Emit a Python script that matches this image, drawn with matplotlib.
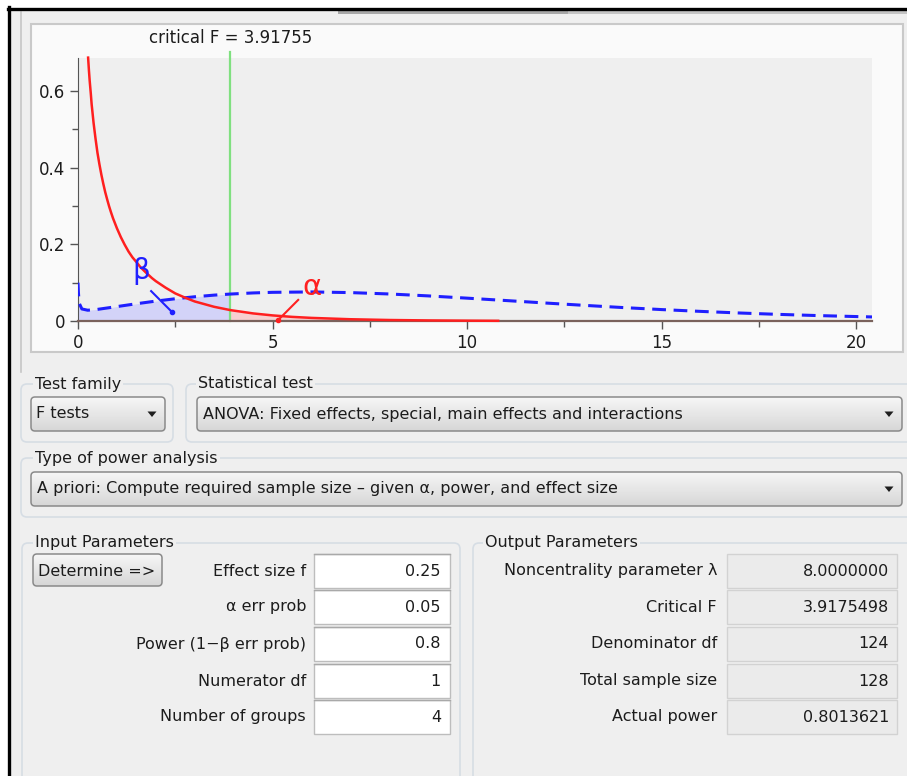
import numpy as np
import matplotlib
matplotlib.use("Agg")
import matplotlib.pyplot as plt
from matplotlib.patches import Rectangle, FancyBboxPatch, Polygon
from matplotlib.colors import LinearSegmentedColormap

W, H, DPI = 907, 776, 100

# --- chart data ---
crit_f = 3.91755
central_x = [0.26, 0.28, 0.3, 0.33, 0.35, 0.4, 0.45, 0.5, 0.55, 0.6, 0.65, 0.7, 0.75,
             0.8, 0.85, 0.9, 1.0, 1.1, 1.2, 1.3, 1.4, 1.5, 1.6, 1.75, 1.9, 2.0, 2.25,
             2.5, 2.75, 3.0, 3.25, 3.5, 3.91755, 4.25, 4.5, 5.0, 5.5, 6.0, 7.0, 8.0,
             9.0, 10.0, 10.8]
central_y = [0.687, 0.655, 0.627, 0.592, 0.566, 0.517, 0.476, 0.439, 0.409, 0.382,
             0.358, 0.336, 0.317, 0.299, 0.283, 0.268, 0.242, 0.219, 0.199, 0.181,
             0.166, 0.154, 0.141, 0.126, 0.112, 0.104, 0.087, 0.072, 0.061, 0.051,
             0.044, 0.037, 0.0284, 0.0235, 0.0198, 0.0146, 0.0108, 0.0081, 0.0046,
             0.0026, 0.0015, 0.0009, 0.0005]
noncentral_x = [0.0, 0.01, 0.03, 0.1, 0.25, 0.5, 1.0, 1.5, 2.0, 2.5, 3.0, 3.5, 3.91755,
                4.5, 5.0, 6.0, 7.0, 8.0, 9.0, 10.0, 11.0, 12.0, 13.0, 14.0, 15.0,
                16.0, 17.0, 18.0, 19.0, 20.0, 20.41]
noncentral_y = [0.100, 0.0756, 0.0466, 0.0314, 0.0281, 0.0303, 0.0376, 0.045, 0.0519,
                0.058, 0.0632, 0.0675, 0.0703, 0.0732, 0.0748, 0.0758, 0.0741, 0.0705,
                0.0655, 0.0596, 0.0534, 0.047, 0.0409, 0.0351, 0.0298, 0.0251, 0.0209,
                0.0173, 0.0142, 0.0116, 0.0106]
x_major = [0, 5, 10, 15, 20]
x_minor = [2.5, 7.5, 12.5, 17.5]
y_major = [0, 0.2, 0.4, 0.6]
y_major_labels = ["0", "0.2", "0.4", "0.6"]
y_minor = [0.1, 0.3, 0.5]

# --- form texts ---
test_family = "F tests"
stat_test = "ANOVA: Fixed effects, special, main effects and interactions"
power_type = "A priori: Compute required sample size \u2013 given \u03b1, power, and effect size"
input_labels = ["Effect size f", "\u03b1 err prob", "Power (1\u2212\u03b2 err prob)",
                "Numerator df", "Number of groups"]
input_values = ["0.25", "0.05", "0.8", "1", "4"]
output_labels = ["Noncentrality parameter \u03bb", "Critical F", "Denominator df",
                 "Total sample size", "Actual power"]
output_values = ["8.0000000", "3.9175498", "124", "128", "0.8013621"]
row_y = [571, 607, 644, 681, 717]

TXT = "#1c1c1c"
WIN = "#efefef"
FS = 11.5
FS_CHART = 12

fig = plt.figure(figsize=(W / DPI, H / DPI), dpi=DPI)
fig.patch.set_facecolor("white")

# background axes in pixel coordinates for the window widgets
bg = fig.add_axes([0, 0, 1, 1], zorder=0)
bg.set_xlim(0, W)
bg.set_ylim(H, 0)
bg.set_autoscale_on(False)
bg.axis("off")

bg.add_patch(Rectangle((10, 10), W - 10, H - 10, fc=WIN, ec="none"))
bg.add_patch(Rectangle((338, 10), W - 338, 4, fc="#c4c4c4", ec="none"))
bg.add_patch(Rectangle((338, 10), 230, 4, fc="#a8a8a8", ec="none"))
bg.plot([21, 21], [12, 372], color="#c6c6c6", lw=1.2)
bg.plot([9, 9], [7, H], color="black", lw=2.4)
bg.plot([8, W], [8.5, 8.5], color="black", lw=2.4)

# chart panel
bg.add_patch(Rectangle((31, 24), 872, 328, fc="#fafafa", ec="#c9c9c9", lw=1.5))

grad_cmap = LinearSegmentedColormap.from_list("btn", ["#f7f7f7", "#d6d6d6"])


def gradient_box(x0, y0, x1, y1, r=4):
    patch = FancyBboxPatch((x0, y0), x1 - x0, y1 - y0,
                           boxstyle=f"round,pad=0,rounding_size={r}",
                           fc="none", ec="#8a8a8a", lw=1.1, zorder=4)
    bg.add_patch(patch)
    grad = np.linspace(0, 1, 60).reshape(-1, 1)
    im = bg.imshow(grad, cmap=grad_cmap, extent=(x0, x1, y1, y0),
                   aspect="auto", zorder=3, interpolation="bilinear")
    im.set_clip_path(patch)


def arrow(x, y):
    bg.add_patch(Polygon([(x - 4.5, y - 2.5), (x + 4.5, y - 2.5), (x, y + 3)],
                         closed=True, fc="#1e1e1e", ec="none", zorder=5))


def group(x0, y0, x1, y1, title, tx):
    bg.add_patch(FancyBboxPatch((x0, y0), x1 - x0, y1 - y0,
                                boxstyle="round,pad=0,rounding_size=6",
                                fc="none", ec="#d6dde4", lw=1.2, zorder=2))
    bg.text(tx, y0, title, fontsize=FS, color=TXT, ha="left", va="center",
            zorder=3, bbox=dict(fc=WIN, ec="none", pad=1.5))


# top selection groups
group(21, 384, 173, 442, "Test family", 35)
gradient_box(31, 397, 165, 431)
bg.text(36, 414, test_family, fontsize=FS, color=TXT, va="center", zorder=6)
arrow(152, 414)

group(186, 384, 930, 442, "Statistical test", 198)
gradient_box(197, 397, 902, 431)
bg.text(203, 414, stat_test, fontsize=FS, color=TXT, va="center", zorder=6)
arrow(889, 414)

group(21, 458, 930, 517, "Type of power analysis", 35)
gradient_box(31, 472, 902, 506)
bg.text(37, 489, power_type, fontsize=FS, color=TXT, va="center", zorder=6)
arrow(889, 489)

# parameter groups
group(22, 543, 460, 800, "Input Parameters", 35)
group(473, 543, 930, 800, "Output Parameters", 485)

gradient_box(33, 554, 162, 586)
bg.text(97, 571, "Determine =>", fontsize=FS, color=TXT, ha="center", va="center", zorder=6)

for yc, lab, val in zip(row_y, input_labels, input_values):
    bg.text(306, yc, lab, fontsize=FS, color=TXT, ha="right", va="center")
    bg.add_patch(Rectangle((314, yc - 17), 136, 34, fc="white", ec="#bdbdbd", lw=1))
    bg.plot([314, 450], [yc - 17, yc - 17], color="#a9a9a9", lw=1)
    bg.text(441, yc, val, fontsize=FS, color=TXT, ha="right", va="center")

for yc, lab, val in zip(row_y, output_labels, output_values):
    bg.text(717, yc, lab, fontsize=FS, color=TXT, ha="right", va="center")
    bg.add_patch(Rectangle((727, yc - 17), 170, 34, fc="#ebebeb", ec="#d2d2d2", lw=1))
    bg.text(889, yc, val, fontsize=FS, color=TXT, ha="right", va="center")

# --- distribution chart ---
ax = fig.add_axes([78 / W, 1 - 321 / H, (872 - 78) / W, (321 - 58) / H], zorder=2)
ax.set_facecolor("#efefef")
ax.set_xlim(0, 20.41)
ax.set_ylim(0, 0.686)

cx = np.array(central_x)
cy = np.array(central_y)
nx = np.array(noncentral_x)
ny = np.array(noncentral_y)

beta_mask = nx <= crit_f
ax.fill_between(nx[beta_mask], 0, ny[beta_mask], color="#d3d3f8", lw=0, zorder=1)
alpha_mask = cx >= crit_f
ax.fill_between(cx[alpha_mask], 0, cy[alpha_mask], color="#f7d0d0", lw=0, zorder=1)

ax.plot(nx, ny, color="#1f1fff", lw=2.2, dashes=(4.5, 2.5), zorder=3)
ax.plot(cx, cy, color="#ff1f1f", lw=1.8, zorder=4, clip_on=False)
ax.axvline(crit_f, ymin=0, ymax=(321 - 52) / (321 - 58), color="#80e080",
           lw=1.6, zorder=2, clip_on=False)

ax.text(crit_f, 0.738, f"critical F = {crit_f}", ha="center", va="center",
        fontsize=FS_CHART, color=TXT)

# beta / alpha markers
ax.text(1.62, 0.13, "\u03b2", color="#2020ff", fontsize=20, ha="center", va="center", zorder=5)
ax.plot([1.88, 2.42], [0.078, 0.023], color="#2020ff", lw=1.5, zorder=5)
ax.plot([2.42], [0.023], "o", color="#2020ff", ms=3, zorder=5)
ax.text(6.02, 0.088, "\u03b1", color="#ff2020", fontsize=21, ha="center", va="center", zorder=5)
ax.plot([5.66, 5.15], [0.055, 0.003], color="#ff2020", lw=1.5, zorder=5)
ax.plot([5.15], [0.003], "o", color="#ff2020", ms=3, zorder=5, clip_on=False)

for side in ["top", "right"]:
    ax.spines[side].set_visible(False)
ax.spines["left"].set_color("#555555")
ax.spines["bottom"].set_color("#7a625c")
ax.spines["bottom"].set_linewidth(1.6)

ax.set_xticks(x_major)
ax.set_xticks(x_minor, minor=True)
ax.set_xticklabels([str(v) for v in x_major])
ax.set_yticks(y_major)
ax.set_yticks(y_minor, minor=True)
ax.set_yticklabels(y_major_labels)
ax.tick_params(which="major", direction="out", length=6, width=1, color="#555555",
               labelsize=FS_CHART, labelcolor=TXT, pad=3)
ax.tick_params(which="minor", direction="out", length=4, width=1, color="#555555")

fig.savefig("out.png", dpi=DPI)
